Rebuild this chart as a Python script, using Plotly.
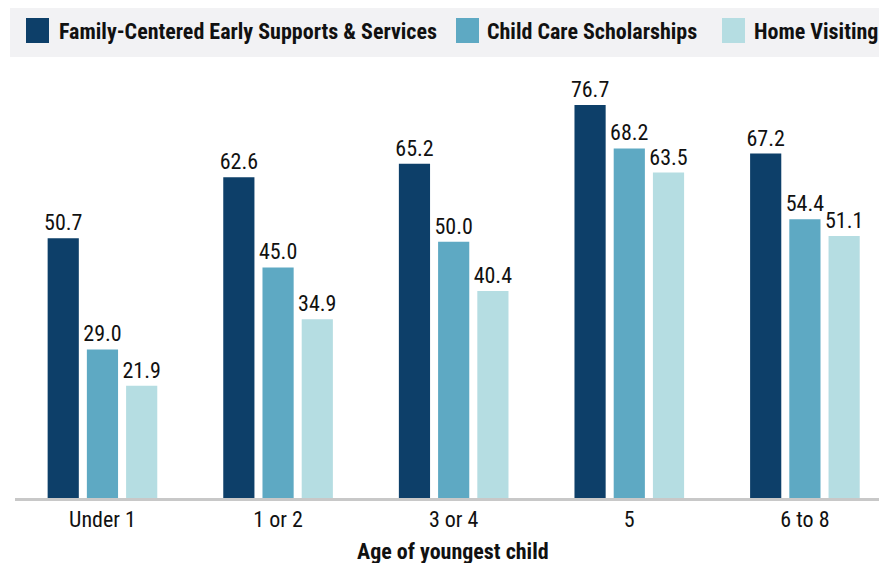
import plotly.graph_objects as go

categories = ["Under 1", "1 or 2", "3 or 4", "5", "6 to 8"]
series_names = ["Family-Centered Early Supports & Services", "Child Care Scholarships", "Home Visiting"]
family_centered = [50.7, 62.6, 65.2, 76.7, 67.2]
child_care = [29.0, 45.0, 50.0, 68.2, 54.4]
home_visiting = [21.9, 34.9, 40.4, 63.5, 51.1]
colors = ["#0d3f69", "#5ea9c3", "#b5dde2"]
x_title = "Age of youngest child"

FONT = "Roboto Condensed, Liberation Sans Narrow, sans-serif"

# page body has an 8px margin; figure sized/positioned to compensate
OFF = 8
W, H = 887 - OFF, 563 - OFF
L, R, T, B = 7, 5, 80, 65
PW, PH = W - L - R, H - T - B

def px(x):
    return (x - OFF - L) / PW

def py(y):
    return (H - B - (y - OFF)) / PH

fig = go.Figure()
for name, vals, col in zip(series_names, [family_centered, child_care, home_visiting], colors):
    fig.add_trace(go.Bar(
        x=categories, y=vals, name=name, marker_color=col, marker_line_width=0,
        texttemplate="%{y:.1f}", textposition="outside", cliponaxis=False, constraintext="none",
        textfont=dict(size=22, color="#111111", family=FONT), showlegend=False,
    ))

# manual legend (grey band with rectangular swatches)
fig.add_shape(type="rect", xref="paper", yref="paper", x0=px(10), x1=px(882),
              y0=py(57), y1=py(8), fillcolor="#f2f2f4", line_width=0, layer="below")
sq_x = [26, 456, 722]
tx_x = [59, 487, 754]
for sx, tx, name, col in zip(sq_x, tx_x, series_names, colors):
    fig.add_shape(type="rect", xref="paper", yref="paper",
                  x0=px(sx), x1=px(sx + 23), y0=py(43), y1=py(18),
                  fillcolor=col, line_width=0)
    fig.add_annotation(xref="paper", yref="paper", x=px(tx), y=py(31),
                       text="<b>%s</b>" % name, showarrow=False, xanchor="left", yanchor="middle",
                       xshift=-2, font=dict(size=22, color="#111111", family=FONT))

# x-axis title
fig.add_annotation(xref="paper", yref="paper", x=px(453), y=py(551), text="<b>%s</b>" % x_title,
                   showarrow=False, xanchor="center", yanchor="middle",
                   font=dict(size=22, color="#111111", family=FONT))

fig.update_layout(
    width=W, height=H, margin=dict(l=L, r=R, t=T, b=B),
    paper_bgcolor="white", plot_bgcolor="white",
    barmode="group", bargap=0.33, bargroupgap=0.205,
    font=dict(family=FONT, size=22, color="#111111"),
    xaxis=dict(range=[-0.498, 4.439], showline=True, linecolor="#c8c8c8", linewidth=3,
               ticks="", tickfont=dict(size=22, family=FONT, color="#111111")),
    yaxis=dict(range=[0, 80], visible=False, showgrid=False),
)
fig.write_html("out.html")
